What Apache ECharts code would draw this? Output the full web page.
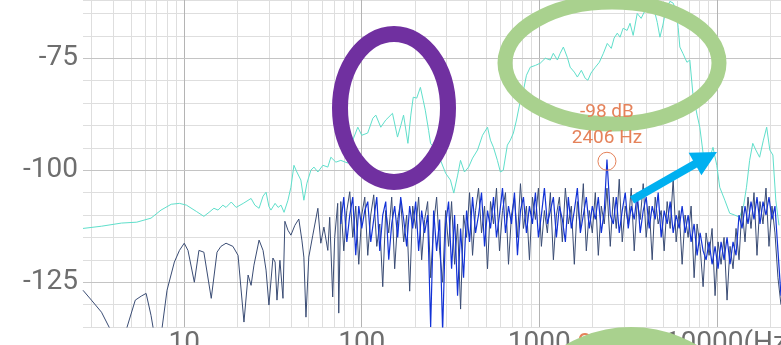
<!DOCTYPE html>
<html>
<head>
<meta charset="utf-8">
<script src="https://cdn.jsdelivr.net/npm/echarts@6/dist/echarts.min.js"></script>
<style>
html,body{margin:0;padding:0;background:#fff;}
#chart{width:781px;height:345px;}
</style>
</head>
<body>
<div id="chart"></div>
<script>
// ---------- data ----------
const xTickValues = [10, 100, 1000, 10000];
const xTickLabels = ['10', '100', '1000', '10000(Hz)'];
const yTickLabels = [-75, -100, -125];
const minorFreqs = [3,4,5,6,7,8,9,20,30,40,50,60,70,80,90,200,300,400,500,600,700,800,900,2000,3000,4000,5000,6000,7000,8000,9000,20000];

const peakFreq = 2406;
const peakDb = -98;

const cyanFreq = [2.69,3.42,4.43,5.4,6.5,7.4,8.45,9.4,10.3,11.7,
12.9,13.8,14.7,15.5,16.5,17.2,18.4,19.6,21.5,23.8,
25.0,26.4,27.8,28.9,30.0,30.8,32.5,33.8,35.1,36.5,
38.4,39.9,41.5,43.1,45.4,47.2,49.1,51.7,53.8,56.6,
60.4,64.4,67.0,71.5,76.2,83.5,89.0,95,100,108,
115.5,120,128,136.5,149,159,166,172,182,189,
195,204,214,222,228,238,244,262,278,297,
316,330,347,360,379,400,421,449,479,511,
531,552,581,604,627,661,687,715,744,783,
815,847,890,951,1013,1082,1153,1200,1265,1312,
1367,1439,1493,1576,1639,1726,1816,1880,1957,2069,
2180,2297,2416,2545,2640,2751,2851,2967,3125,3245,
3380,3563,3750,3900,4050,4203,4380,4620,4783,4970,
5160,5443,5679,5900,6060,6194,6440,6790,7049,7330,
7750,8022,8373,8700,9050,9520,10000,10389,11100,11823,
12600,13455,14170,14700,15312,15950,16600,17425,18300,19100,
19900,20700,21500,22400];
const cyanDb = [-113,-112.5,-111.8,-111.6,-110.7,-108.9,-107.6,-107.4,-107.8,-109.2,
-110.3,-109.4,-108.5,-108.9,-107.8,-108.3,-107.1,-108.3,-107.4,-106.3,
-107.8,-108.5,-105.8,-104.9,-108.1,-108.9,-107.4,-108.3,-107.8,-109.4,
-106.7,-103.8,-98.9,-100.4,-102.2,-106.7,-102.9,-100,-99.3,-100.4,
-98.9,-99.3,-97.1,-98.2,-97.8,-98.4,-93.3,-90.4,-92.2,-91.7,
-88.4,-87.7,-90.4,-88.8,-87.3,-92.6,-90,-87.7,-94,-87.7,
-83.7,-83.9,-81.5,-84.4,-86.6,-91.1,-94,-95.5,-97.8,-100.7,
-102.2,-105.1,-101.1,-97.8,-100.4,-99.3,-97.3,-95.5,-92.2,-90.4,
-93.3,-94.9,-97.8,-100.4,-100,-94.4,-93.3,-91.7,-88.8,-84.4,
-82.1,-78.8,-77,-76.6,-76.1,-75,-75.4,-73.9,-75.4,-73.9,
-72.5,-74.8,-77,-78.1,-79.2,-77.7,-79.5,-79.9,-78.3,-77,
-75.9,-73.9,-71.7,-72.8,-70.5,-69.4,-70.3,-68.3,-68.8,-67.2,
-69.9,-65,-66.1,-64.7,-64.3,-63.4,-63.2,-67,-70.3,-67.6,
-64.3,-62.3,-62.7,-64.3,-68.1,-72.5,-73.9,-75.9,-75.4,-82.8,
-87.7,-90.4,-96.2,-98.9,-97.8,-94.9,-98.9,-103.8,-106.7,-109.6,
-110,-110.5,-107.8,-103.8,-97.8,-94,-95.5,-97.1,-93.3,-90.4,
-95.5,-96.6,-106.7,-112.3];

const lowFreq = [2.69,3.0,3.42,4.0,4.6,5.3,5.73,6.1,6.5,6.8,
7.4,8.0,8.8,9.4,10,10.5,11.4,12.1,12.9,14.2,
15.3,16.1,17.2,18.8,20.1,21.7,22.9,23.8,24.7,26.4,
27.8,28.9,30.0,31.6,32.5,33.3,34.6,36.0,36.9,38.4,
39.9,42.0,44.2,46.0,47.2,48.5,50.3,53.0,56.6,58.8,
61.2,64.4,66.0,68.6,70.4,73.2,74.2];
const lowNavy = [-126.8,-129,-131.7,-137,-137,-129,-128.1,-127.5,-132.4,-137,
-137,-126.8,-120.5,-117.9,-116.3,-117.9,-125,-117.9,-118.3,-128.6,
-118.3,-117,-116.3,-117,-119,-133.9,-123.4,-125.7,-121.2,-115.6,
-117.9,-122.3,-130.1,-119.6,-120.5,-129,-120.1,-128.6,-111.4,-113.4,
-114.5,-112.3,-110.9,-115.6,-119.4,-132.8,-119.4,-114.5,-108.5,-116.3,
-112.7,-117.9,-110.5,-128.3,-115,-107.4,-131.9];

const highFreq = [76.2,79.2,82.4,85.6,89.0,92.5,96.2,100,104,108.1,
112.4,116.8,121.5,126.3,131.3,136.5,141.9,147.5,153.3,159.4,
165.7,172.3,179.1,186.2,193.6,201.3,209.2,217.5,226.1,235.1,
244.4,254.1,264.1,274.6,285.5,296.8,308.5,320.7,333.4,346.6,
360.4,374.6,389.5,404.9,420.9,437.6,454.9,472.9,491.7,511.1,
531.4,552.4,574.3,597,620.7,645.2,670.8,697.4,725,753.7,
783.5,814.6,846.8,880.4,915.2,951.5,989.2,1028,1069,1111,
1155,1201,1249,1298,1349,1403,1458,1516,1576,1639,
1704,1771,1841,1914,1990,2069,2151,2236,2324,2406,
2512,2612,2715,2822,2934,3050,3171,3297,3427,3563,
3704,3851,4003,4162,4327,4498,4676,4861,5054,5254,
5462,5679,5903,6137,6380,6633,6895,7168,7452,7747,
8054,8373,8705,9049,9408,9780,10168,10570,10989,11424,
11877,12347,12836,13345,13873,14423,14994,15588,16206,16847,
17515,18208,18930,19680,20459,21270,22112,22987];
const navyHigh = [-107,-118,-109,-104.8,-115,-108,-121,-110,-106,-119,
-110,-105.5,-117,-112,-126,-109,-114,-106,-122,-111,
-107,-116,-110,-127,-108,-113,-106,-120,-111,-107,
-124,-112,-106,-118,-125,-109,-117,-107,-121,-112,
-131,-110,-115,-105,-119,-109,-104,-114,-108,-122,
-107,-112,-104,-118,-109,-105,-121,-110,-106,-115,
-103,-113,-108,-120,-106,-111,-104,-117,-109,-114,
-105,-120,-110,-106,-116,-104,-112,-108,-121,-107,
-113,-103,-118,-109,-114,-105,-119,-108,-112,-104,
-117,-106,-113,-102,-116,-108,-112,-104,-118,-107,
-111,-103,-115,-108,-120,-106,-112,-109,-118,-107,
-113,-102,-116,-109,-121,-110,-115,-108,-124,-112,
-117,-126,-114,-119,-113,-128,-116,-121,-115,-129,
-117,-122,-113,-120,-108,-116,-106,-113,-105,-119,
-107,-112,-104,-117,-108,-114,-124,-130];
const blueHigh = [-112,-106,-116,-110,-106,-119,-108,-113,-109,-107,
-116,-111,-106,-118,-110,-107,-120,-112,-108,-115,
-106,-111,-117,-108,-113,-107,-118,-109,-114,-110,
-135,-109,-118,-111,-136,-112,-107,-122,-110,-128,
-113,-124,-109,-116,-106,-114,-110,-105,-117,-109,
-113,-106,-115,-110,-104,-114,-108,-112,-105,-119,
-109,-106,-114,-108,-112,-105,-115,-110,-104,-112,
-109,-106,-115,-108,-111,-116,-106,-113,-109,-104,
-114,-110,-106,-113,-108,-111,-106,-114,-109,-97.6,
-110,-112,-106,-114,-109,-105,-113,-108,-111,-105,
-114,-109,-106,-113,-108,-111,-105,-115,-109,-112,
-107,-114,-110,-113,-108,-114,-110,-116,-112,-119,
-114,-118,-120,-116,-121,-117,-122,-116,-120,-115,
-121,-116,-119,-110,-113,-108,-112,-107,-111,-106,
-112,-107,-110,-106,-111,-108,-118,-128];

// ---------- chart ----------
const pair = (xs, ys) => xs.map((x, i) => [x, ys[i]]);
const navyData = pair(lowFreq.concat(highFreq), lowNavy.concat(navyHigh));
const blueData = pair(highFreq, blueHigh);
const cyanData = pair(cyanFreq, cyanDb);

const chart = echarts.init(document.getElementById('chart'), null, {renderer: 'canvas'});
const labelFont = 'Roboto, "Noto Sans", sans-serif';
const orange = '#e5825a';

const gridMarks = [];
minorFreqs.forEach(f => gridMarks.push({xAxis: f, lineStyle: {color: '#dedede', width: 1, type: 'solid'}}));
xTickValues.forEach(f => gridMarks.push({xAxis: f, lineStyle: {color: '#b4b4b4', width: 1, type: 'solid'}}));
yTickLabels.forEach(v => gridMarks.push({yAxis: v, lineStyle: {color: '#c4c4c4', width: 1, type: 'solid'}}));

chart.setOption({
  animation: false,
  backgroundColor: '#ffffff',
  grid: {left: 83, right: 0, top: 0, bottom: 18, containLabel: false, outerBoundsMode: 'none'},
  xAxis: {
    type: 'log', logBase: 10, min: 2.69, max: 23000,
    axisLine: {show: false}, axisTick: {show: false},
    splitLine: {show: false},
    axisLabel: {
      margin: 3, fontSize: 28, color: '#6e6e6e', fontFamily: labelFont,
      showMinLabel: false, showMaxLabel: false,
      formatter: function (v) {
        for (let i = 0; i < xTickValues.length; i++) {
          if (Math.abs(v - xTickValues[i]) / xTickValues[i] < 1e-6) {
            return i === xTickValues.length - 1 ? '{u|' + xTickLabels[i] + '}' : xTickLabels[i];
          }
        }
        return '';
      },
      rich: {u: {fontSize: 28, color: '#6e6e6e', fontFamily: labelFont, padding: [0, 0, 0, 28]}}
    }
  },
  yAxis: {
    type: 'value', min: -135, max: -62, interval: 5,
    axisLine: {show: false}, axisTick: {show: false},
    splitLine: {show: true, lineStyle: {color: '#dedede', width: 1}},
    axisLabel: {
      margin: 5, fontSize: 28, color: '#6e6e6e', fontFamily: labelFont,
      padding: [6, 0, 0, 0],
      formatter: function (v) { return yTickLabels.indexOf(v) >= 0 ? String(v) : ''; }
    }
  },
  graphic: [
    {type: 'ellipse', z: 4, shape: {cx: 394, cy: 108, rx: 54, ry: 74},
     style: {fill: null, stroke: '#7030a0', lineWidth: 16}},
    {type: 'ellipse', z: 4, shape: {cx: 612, cy: 63, rx: 107, ry: 61},
     style: {fill: null, stroke: '#a9d18e', lineWidth: 15}},
    {type: 'polygon', z: 4, shape: {points: [[630,196.5],[693,160.5],[688.6,152.7],[717,152],[701.4,175.3],[697,167.5],[634,203.5]]},
     style: {fill: '#00b0f0'}},
    {type: 'circle', z: 100, shape: {cx: 631, cy: 457, r: 130}, style: {fill: '#a9d18e'}}
  ],
  series: [
    {
      type: 'line', name: 'grid', data: [], silent: true, z: 1,
      markLine: {silent: true, z: 1, symbol: 'none', label: {show: false}, animation: false, data: gridMarks}
    },
    {
      type: 'line', name: 'ref', data: cyanData, showSymbol: false, symbol: 'none', z: 2,
      lineStyle: {color: '#5fdfcb', width: 1}
    },
    {
      type: 'line', name: 'noiseA', data: navyData, showSymbol: false, symbol: 'none', z: 3,
      lineStyle: {color: '#3a4c74', width: 1}
    },
    {
      type: 'line', name: 'noiseB', data: blueData, showSymbol: false, symbol: 'none', z: 3,
      lineStyle: {color: '#1232d6', width: 1.2},
      markPoint: {
        z: 5, animation: false,
        data: [
          {coord: [peakFreq, peakDb], symbol: 'circle', symbolSize: 18,
           itemStyle: {color: 'rgba(0,0,0,0)', borderColor: orange, borderWidth: 1},
           label: {show: true, position: 'top', distance: 1, color: orange, fontSize: 19, lineHeight: 26,
                   fontFamily: labelFont, formatter: peakDb + ' dB\n' + peakFreq + ' Hz'}},
          {coord: [peakFreq, -135], symbol: 'circle', symbolSize: 0,
           label: {show: true, position: 'bottom', distance: 5, color: orange, fontSize: 26,
                   fontFamily: labelFont, formatter: String(peakFreq)}}
        ]
      }
    }
  ]
});
</script>
</body>
</html>
